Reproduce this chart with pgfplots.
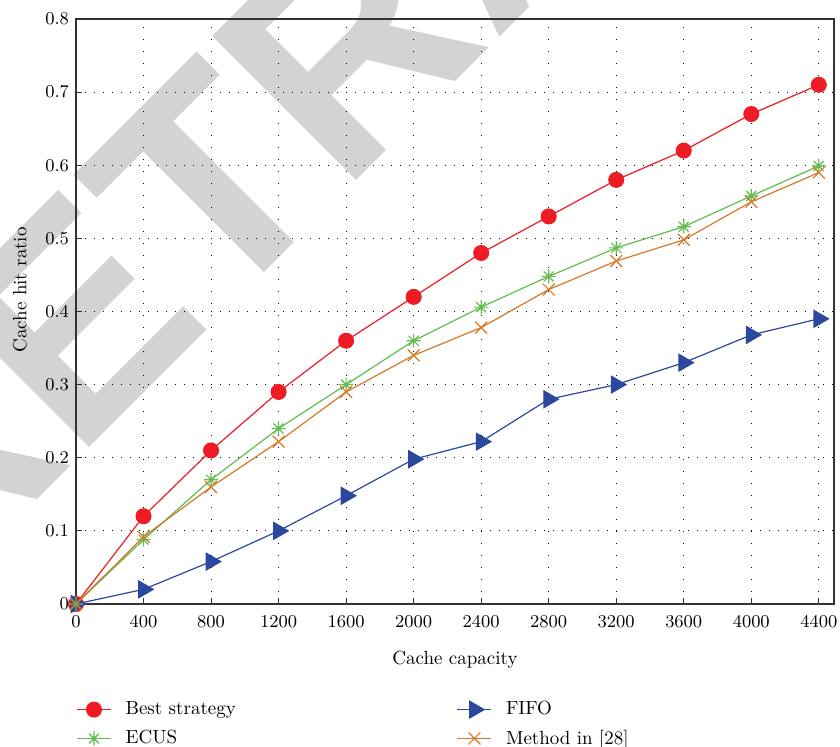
\documentclass[border=0pt]{standalone}
\usepackage{pgfplots}
\pgfplotsset{compat=1.18}
\usepackage{fontspec}
\newfontfamily\wmfont{Liberation Sans}
\definecolor{cred}{RGB}{237,28,36}
\definecolor{cgreen}{RGB}{100,188,80}
\definecolor{corange}{RGB}{215,120,40}
\definecolor{cblue}{RGB}{44,72,158}
\definecolor{wmgray}{RGB}{211,211,211}
\pgfdeclareplotmark{star8}{%
 \pgfpathmoveto{\pgfqpoint{0pt}{\pgfplotmarksize}}\pgfpathlineto{\pgfqpoint{0pt}{-\pgfplotmarksize}}%
 \pgfpathmoveto{\pgfqpoint{\pgfplotmarksize}{0pt}}\pgfpathlineto{\pgfqpoint{-\pgfplotmarksize}{0pt}}%
 \pgfpathmoveto{\pgfqpoint{.7071\pgfplotmarksize}{.7071\pgfplotmarksize}}\pgfpathlineto{\pgfqpoint{-.7071\pgfplotmarksize}{-.7071\pgfplotmarksize}}%
 \pgfpathmoveto{\pgfqpoint{-.7071\pgfplotmarksize}{.7071\pgfplotmarksize}}\pgfpathlineto{\pgfqpoint{.7071\pgfplotmarksize}{-.7071\pgfplotmarksize}}%
 \pgfusepathqstroke}
\begin{document}
\begin{tikzpicture}
\node[overlay, anchor=base west, rotate=45, inner sep=0pt, text=wmgray,
  font=\wmfont\bfseries\fontsize{148}{148}\selectfont] at (-76pt,-4.5pt) {RETRACTED};
\begin{axis}[
  at={(0,0)}, anchor=south west,
  scale only axis, width=379pt, height=292.5pt,
  xmin=0, xmax=4490, ymin=0, ymax=0.8,
  xtick={0,400,800,1200,1600,2000,2400,2800,3200,3600,4000,4400},
  ytick={0,0.1,0.2,0.3,0.4,0.5,0.6,0.7,0.8},
  scaled x ticks=false,
  /pgf/number format/1000 sep={},
  tick pos=left, tick align=inside, major tick length=3pt,
  tick style={black!80, line width=0.5pt},
  axis line style={draw=black!80, line width=0.7pt},
  grid=major,
  major x grid style={black, line width=0.5pt, dash pattern=on 0.5pt off 5.5pt},
  major y grid style={black, line width=0.5pt, dash pattern=on 0.5pt off 4pt},
  tick label style={font=\fontsize{9.3}{11}\selectfont},
  xticklabel style={yshift=-2.4pt},
  label style={font=\fontsize{9.5}{11}\selectfont},
  xlabel={Cache capacity},
  xlabel style={at={(axis description cs:0.5,-0.0957)}, anchor=center},
  ylabel={Cache hit ratio},
  ylabel style={at={(axis description cs:-0.0739,0.537)}, anchor=center},
  legend columns=2,
  legend cell align=left,
  legend style={at={(axis description cs:0,-0.1624)}, anchor=north west, draw=none, fill=none,
    inner sep=0pt, row sep=4pt, font=\fontsize{9.5}{11}\selectfont, nodes={inner sep=1pt},
    /tikz/every even column/.append style={column sep=109.5pt}},
  legend image code/.code={\draw[mark repeat=2,mark phase=2] plot coordinates {(0pt,0pt) (8.5pt,0pt) (17pt,0pt)}; \path (23pt,0pt);},
]
\addplot[color=cred, line width=0.6pt, mark=*, mark size=3.7pt, mark options={solid, fill=cred, draw=cred}]
coordinates {(0,0)(400,0.12)(800,0.21)(1200,0.29)(1600,0.36)(2000,0.42)(2400,0.48)(2800,0.53)(3200,0.58)(3600,0.62)(4000,0.67)(4400,0.71)};
\addlegendentry{Best strategy}
\addplot[color=cblue, line width=0.6pt, mark=triangle*, mark size=4.8pt, mark options={solid, rotate=-90, fill=cblue, draw=cblue}]
coordinates {(0,0)(400,0.02)(800,0.058)(1200,0.1)(1600,0.148)(2000,0.198)(2400,0.222)(2800,0.28)(3200,0.3)(3600,0.33)(4000,0.368)(4400,0.39)};
\addlegendentry{FIFO}
\addplot[color=cgreen, line width=0.6pt, mark=star8, mark size=3.5pt, mark options={solid}]
coordinates {(0,0)(400,0.088)(800,0.17)(1200,0.24)(1600,0.30)(2000,0.36)(2400,0.406)(2800,0.448)(3200,0.487)(3600,0.516)(4000,0.558)(4400,0.599)};
\addlegendentry{ECUS}
\addplot[color=corange, line width=0.6pt, mark=x, mark size=4.2pt, mark options={solid}]
coordinates {(0,0)(400,0.092)(800,0.16)(1200,0.222)(1600,0.29)(2000,0.34)(2400,0.378)(2800,0.43)(3200,0.469)(3600,0.498)(4000,0.55)(4400,0.59)};
\addlegendentry{Method in [28]}
\end{axis}
\pgfresetboundingbox
\path[use as bounding box] (-38pt,-71.5pt) rectangle (382pt,302pt);
\end{tikzpicture}
\end{document}
